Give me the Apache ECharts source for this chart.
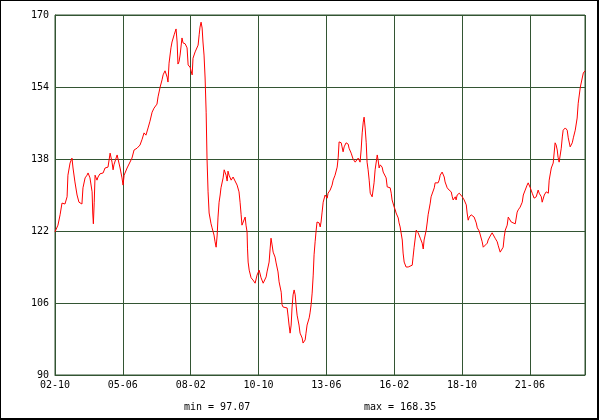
<!DOCTYPE html>
<html><head><meta charset="utf-8">
<script src="https://cdn.jsdelivr.net/npm/echarts@6/dist/echarts.min.js"></script>
<style>html,body{margin:0;padding:0;background:#fff}#c{width:600px;height:420px}</style>
</head><body><div id="c"></div>
<script>
const xLabels = ['02-10','05-06','08-02','10-10','13-06','16-02','18-10','21-06'];
const labelStep = 32; // months between labels
const yTicks = [90, 106, 122, 138, 154, 170];
const minText = 'min = 97.07';
const maxText = 'max = 168.35';

// month offset since 02-10
const months = [
0,1.4,2.4,3.3,4.2,4.7,5.7,6.1,7.1,8.0,8.5,9.4,10.4,11.3,12.7,13.2,14.2,15.1,15.6,16.5,17.5,17.8,18.1,18.5,18.9,19.8,20.3,21.2,22.7,23.6,25.0,26.0,26.9,27.4,27.8,29.3,29.7,30.7,31.6,32.1,32.6,34.0,34.9,36.3,37.3,38.7,40.1,41.1,42.0,42.9,43.9,44.8,45.8,46.7,48.1,48.6,49.6,50.5,51.0,51.9,52.9,53.3,53.8,54.7,55.2,56.2,57.1,57.6,58.0,58.5,59.0,59.9,60.4,61.4,62.3,62.8,
63.7,64.7,65.1,66.1,66.5,67.5,68.0,68.4,68.9,69.4,69.8,70.3,70.8,71.3,71.7,72.2,72.7,73.6,74.1,75.0,75.5,76.0,76.5,76.9,77.4,77.9,78.3,79.3,79.8,80.7,81.2,81.6,82.1,83.1,84.0,84.9,85.9,86.8,87.3,87.8,88.2,88.7,89.7,90.1,90.6,90.8,91.1,91.6,92.5,93.0,93.4,94.4,94.9,95.3,96.3,96.7,97.2,98.2,98.6,99.6,100.0,101.0,101.5,101.9,102.4,102.9,103.8,104.3,105.2,105.7,106.7,107.1,107.6,108.5,109.5,110.0,110.4,110.9,111.4,111.8,112.3,112.8,113.3,113.7,114.2,115.1,115.6,116.6,117.0,118.0,118.4,118.9,119.9,120.3,120.8,121.3,121.8,122.2,122.7,123.2,123.6,124.6,125.1,125.5,126.0,126.5,
127.4,128.4,128.8,129.8,130.7,131.2,132.1,133.1,133.6,134.0,135.0,135.4,135.9,136.4,137.3,138.3,138.7,139.7,140.6,141.6,142.5,143.0,143.9,144.4,144.9,145.4,145.8,146.3,146.8,147.2,147.7,148.2,148.7,149.6,150.1,150.5,151.0,152.0,152.4,152.9,153.4,154.3,154.8,155.3,156.2,156.7,157.1,158.1,158.6,159.0,160.0,160.5,160.9,161.9,162.3,162.8,163.8,164.2,164.7,165.6,166.1,166.6,167.5,168.5,168.9,169.4,170.4,170.8,171.3,172.3,172.7,173.2,173.7,174.1,175.1,175.6,176.0,177.0,177.4,177.9,178.9,179.3,179.8,180.7,181.2,181.7,182.6,183.1,183.6,184.0,185.0,185.5,185.9,186.9,187.4,187.8,188.8,189.2,189.7,190.7,191.1,192.1,192.5,
193.0,194.0,194.4,194.9,195.4,196.3,196.8,197.7,198.7,199.2,200.1,201.0,201.5,202.0,202.9,203.9,204.3,205.3,206.2,206.7,207.6,208.6,209.1,210.0,210.9,211.4,211.9,212.4,213.3,213.8,214.3,215.2,216.1,217.1,218.0,218.5,219.4,220.4,220.9,221.8,222.7,223.2,224.2,225.1,226.0,227.0,227.9,228.4,229.4,229.8,230.8,231.7,232.7,233.1,234.1,234.5,235.0,235.9,236.4,236.9,237.3,237.8,238.8,239.3,239.7,240.7,241.6,242.1,243.0,244.0,244.5,245.4,246.3,246.8,247.8,248.7,249.2,250.0
];
const prices = [
121.8,123.3,125.6,128.2,128.4,128.0,129.6,134.4,137.1,138.2,136.0,132.9,130.0,128.4,128.0,131.6,133.8,134.4,134.9,133.8,130.7,126.0,123.6,128.4,134.4,133.3,134.0,134.7,134.9,136.0,136.2,139.3,137.3,135.6,136.7,138.9,138.7,136.0,133.8,132.2,134.4,136.0,136.4,138.2,140.0,140.4,141.1,142.4,143.8,143.3,144.9,146.4,148.4,149.3,150.2,151.8,154.0,155.6,156.7,157.6,156.2,155.1,159.3,162.7,164.0,165.6,166.9,164.0,159.1,159.6,161.1,164.9,163.8,163.6,162.7,158.9,
158.4,156.7,160.4,161.8,162.2,163.3,165.6,167.3,168.4,167.1,164.0,161.1,156.0,148.4,138.2,130.7,126.0,123.6,122.7,121.1,119.6,118.4,121.1,125.1,128.4,130.0,131.6,133.8,135.6,134.4,133.1,135.3,134.4,133.3,134.0,133.6,132.2,130.7,128.4,125.6,123.3,122.9,125.1,123.3,121.8,118.2,115.1,113.3,111.6,111.8,111.1,110.4,110.7,112.2,113.3,112.9,111.6,110.4,110.7,111.8,112.9,115.1,118.2,120.4,118.9,117.3,116.2,114.9,112.9,110.7,108.4,105.6,105.1,105.1,104.9,102.9,101.1,99.3,101.1,104.9,107.8,108.9,107.8,105.6,103.3,101.1,99.3,98.2,97.1,97.8,99.3,101.1,102.7,103.8,105.6,108.2,112.2,116.7,119.6,122.2,124.0,123.8,122.9,124.0,126.2,128.4,
130.0,129.3,130.4,131.1,132.2,133.3,134.4,136.2,138.4,141.8,141.6,140.7,139.6,140.7,141.6,141.3,140.4,139.3,138.0,137.3,137.1,138.2,137.3,140.0,143.8,146.2,147.3,144.9,141.6,137.3,135.6,133.3,130.4,129.6,129.3,132.7,135.6,138.9,137.8,136.0,136.7,136.2,135.1,134.9,133.8,131.8,132.2,131.6,130.4,128.9,127.3,126.7,126.0,124.9,123.8,122.9,120.0,117.1,115.1,114.0,113.8,114.0,114.4,114.4,116.2,118.4,122.2,122.4,121.6,120.4,120.7,119.3,118.0,120.0,122.2,124.0,125.6,128.2,129.6,130.0,131.6,132.7,132.9,132.7,133.3,134.4,135.1,135.3,134.0,132.9,131.6,132.0,131.1,130.7,129.6,128.9,129.6,128.9,130.0,130.4,130.0,129.6,129.3,
128.9,127.8,126.0,124.4,125.1,125.6,125.8,125.1,123.8,122.7,122.0,121.6,119.6,118.4,118.4,119.3,120.0,120.9,121.6,121.6,120.4,119.6,118.7,117.3,117.1,118.4,120.7,122.2,123.3,125.1,124.9,124.0,123.8,123.6,126.2,126.7,127.3,128.4,130.0,131.1,132.2,132.7,131.6,130.4,129.3,129.6,131.1,130.4,129.6,128.4,130.0,130.7,130.4,133.3,136.0,136.2,137.1,141.6,141.1,140.0,138.4,137.3,140.4,142.9,144.4,144.9,144.4,142.7,140.7,141.6,142.7,144.4,147.1,150.4,154.0,156.0,157.1,157.6
];

const gridColor = '#335533';
const font = "'DejaVu Sans Mono', monospace";
const chart = echarts.init(document.getElementById('c'), null, {renderer: 'canvas'});
chart.setOption({
  animation: false,
  backgroundColor: '#ffffff',
  grid: {left: 55, right: 15, top: 15, bottom: 45, show: true, borderColor: gridColor, borderWidth: 1, containLabel: false},
  xAxis: {
    type: 'value', min: 0, max: 250, interval: labelStep,
    axisLine: {show: true, lineStyle: {color: gridColor, width: 1}},
    axisTick: {show: false},
    axisLabel: {
      color: '#000', fontFamily: font, fontSize: 10, margin: 5,
      formatter: v => (v % labelStep === 0 && xLabels[v / labelStep]) ? xLabels[v / labelStep] : ''
    },
    splitLine: {show: true, lineStyle: {color: gridColor, width: 1}}
  },
  yAxis: {
    type: 'value', min: yTicks[0], max: yTicks[yTicks.length - 1], interval: yTicks[1] - yTicks[0],
    axisLine: {show: true, lineStyle: {color: gridColor, width: 1}},
    axisTick: {show: false},
    axisLabel: {color: '#000', fontFamily: font, fontSize: 10, margin: 6},
    splitLine: {show: true, lineStyle: {color: gridColor, width: 1}}
  },
  series: [{
    type: 'line',
    data: months.map((m, i) => [m, prices[i]]),
    showSymbol: false, symbol: 'none',
    lineStyle: {color: '#ff0000', width: 1},
    silent: true
  }],
  graphic: [
    {type: 'text', left: 184, top: 402, style: {text: minText, fill: '#000', font: "10px 'DejaVu Sans Mono', monospace"}},
    {type: 'text', left: 364, top: 402, style: {text: maxText, fill: '#000', font: "10px 'DejaVu Sans Mono', monospace"}},
    {type: 'rect', shape: {x: 0, y: 0, width: 598, height: 419}, style: {fill: 'none', stroke: '#000', lineWidth: 2}, silent: true}
  ]
});
</script>
</body></html>
